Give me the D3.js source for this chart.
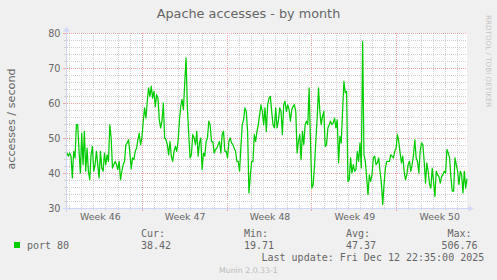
<!DOCTYPE html>
<html>
<head>
<meta charset="utf-8">
<script src="https://cdn.jsdelivr.net/npm/d3@7"></script>
<style>
  html, body { margin: 0; padding: 0; background: #f0f0f0; }
  svg { display: block; }
  text { font-family: "DejaVu Sans", sans-serif; fill: #666; }
  .mono { font-family: "DejaVu Sans Mono", monospace; }
</style>
</head>
<body>
<svg id="chart" width="497" height="280"></svg>
<script>
const title = "Apache accesses - by month";
const yLabel = "accesses / second";
const yTicks = [30, 40, 50, 60, 70, 80];
const seriesName = "port 80";
const legendHeads = ["Cur:", "Min:", "Avg:", "Max:"];
const legendValues = ["38.42", "19.71", "47.37", "506.76"];
const lastUpdate = "Last update: Fri Dec 12 22:35:00 2025";
const version = "Munin 2.0.33-1";

// 33 day window, samples evenly spaced over it
const start = new Date(Date.UTC(2025, 10, 9, 20, 0));
const end = new Date(Date.UTC(2025, 11, 12, 20, 0));

// accesses / second (first part, up to ~Nov 24)
const accessesA = [
  45.7, 44.8, 45.7, 44.8, 38.6, 46.2, 44.3, 53.8, 53.8, 46.2,
  40.0, 51.4, 42.4, 51.9, 40.5, 47.1, 40.5, 38.1, 45.2, 47.6,
  40.5, 42.4, 46.2, 42.4, 38.6, 46.2, 41.4, 40.5, 45.7, 42.4,
  45.2, 43.3, 53.8, 50.0, 41.4, 42.4, 43.3, 42.4, 41.0, 43.3,
  38.1, 40.5, 42.4, 43.3, 48.1, 48.6, 49.5, 45.7, 41.2, 44.3,
  43.8, 46.2, 47.1, 49.5, 51.4, 48.1, 50.0, 54.8, 58.6, 55.7,
  60.5, 64.3, 61.9, 64.8, 61.4, 63.3, 59.0, 62.4, 61.4, 55.2,
  52.9, 54.8, 60.0, 50.0, 49.5, 48.1, 45.2, 49.0, 44.8, 43.3,
  46.2, 47.6, 46.2, 49.0, 54.8, 59.0, 61.0, 58.1, 65.7, 72.9,
  58.6, 51.0, 44.3, 45.2, 51.0, 50.0, 48.1, 51.9, 44.8, 48.6,
  50.0, 41.0, 45.7, 44.8, 49.0, 50.0, 54.8, 53.8, 49.0, 49.0,
  45.7, 46.7, 47.1, 48.1, 49.0, 45.7, 51.0, 51.9, 46.2, 46.2,
  44.3, 49.0, 50.0, 48.6, 48.1, 47.1, 46.2, 43.3, 43.3, 40.5,
  47.6, 53.8, 55.2, 58.6, 57.6, 51.9, 34.3
];

// second part, up to the last update
const accessesB = [
  39.0, 43.3, 43.3, 51.0, 49.0, 51.9, 53.8, 56.7, 59.5, 57.6,
  53.8, 58.6, 51.9, 59.5, 61.4, 61.9, 57.6, 53.8, 52.9, 58.6,
  52.9, 54.8, 58.6, 57.6, 51.0, 59.5, 60.5, 57.6, 59.5, 58.1,
  54.8, 58.1, 59.0, 59.5, 57.6, 45.7, 49.0, 51.0, 43.8, 51.9,
  48.1, 53.8, 54.8, 53.8, 64.3, 49.0, 35.7, 36.7, 41.9, 49.0,
  55.7, 64.3, 57.6, 53.8, 56.2, 57.6, 47.6, 48.1, 52.9, 53.8,
  54.8, 53.8, 54.3, 55.7, 52.9, 55.2, 42.9, 50.5, 48.6, 57.6,
  66.2, 62.9, 63.3, 37.6, 38.1, 44.3, 40.0, 42.4, 40.5, 41.0,
  46.2, 43.3, 48.6, 41.4, 77.6, 45.2, 43.3, 38.6, 33.8, 39.5,
  37.6, 39.5, 44.3, 44.8, 42.4, 42.9, 44.3, 40.5, 37.1, 31.0,
  36.7, 41.4, 43.3, 43.3, 43.3, 45.2, 44.8, 44.3, 46.2, 47.1,
  51.0, 49.0, 45.7, 42.9, 44.8, 40.5, 38.1, 39.5, 42.4, 43.3,
  40.5, 42.4, 45.2, 49.5, 44.3, 43.3, 40.0, 46.2, 48.6, 48.1,
  43.3, 37.1, 42.9, 40.5, 36.7, 35.7, 41.4, 37.6, 33.3, 40.5,
  39.5, 39.0, 37.1, 39.0, 39.5, 40.5, 40.0, 46.7, 45.7, 44.3,
  38.6, 34.8, 34.8, 44.3, 42.4, 40.5, 36.7, 40.5, 39.5, 34.3,
  40.5, 35.7, 38.4
];

const values = accessesA.concat(accessesB);
const step = (end - start) / (values.length - 1);
const data = values.map((v, i) => ({ t: new Date(+start + i * step), v }));

const svg = d3.select("#chart");
const x = d3.scaleUtc().domain([start, end]).range([67, 467]);
const y = d3.scaleLinear().domain([30, 80]).range([208, 33]);
const px = v => Math.round(v) + 0.5;

const minorCol = "#cfcfcf";
const majorCol = "#f2a3a3";
const axisCol = "#cfd6f8";

// canvas
svg.append("rect")
  .attr("x", 67).attr("y", 33)
  .attr("width", 400).attr("height", 175)
  .attr("fill", "#fff");

const grid = svg.append("g").attr("fill", "none").attr("stroke-width", 1);

// vertical grid: days minor, weeks (sunday) major
const days = d3.utcDay.range(d3.utcDay.ceil(start), end);
const sundays = d3.utcSunday.range(d3.utcSunday.ceil(start), end);
const isSunday = d => d.getUTCDay() === 0;

grid.selectAll(".vminor")
  .data(days.filter(d => !isSunday(d)))
  .join("g")
  .each(function(d) {
    const g = d3.select(this);
    const xx = px(x(d));
    g.append("line").attr("x1", xx).attr("x2", xx).attr("y1", 33).attr("y2", 208)
      .attr("stroke", minorCol).attr("stroke-dasharray", "1,1");
    g.append("line").attr("x1", xx).attr("x2", xx).attr("y1", 208).attr("y2", 210)
      .attr("stroke", minorCol);
  });

grid.selectAll(".vmajor")
  .data(sundays)
  .join("g")
  .each(function(d) {
    const g = d3.select(this);
    const xx = px(x(d));
    g.append("line").attr("x1", xx).attr("x2", xx).attr("y1", 33).attr("y2", 208)
      .attr("stroke", majorCol).attr("stroke-dasharray", "1,1");
    g.append("line").attr("x1", xx).attr("x2", xx).attr("y1", 208).attr("y2", 211)
      .attr("stroke", majorCol);
  });

// horizontal grid: every 2 minor, every 10 major
const yMinor = d3.range(32, 80, 2).filter(v => v % 10 !== 0);

grid.selectAll(".hminor")
  .data(yMinor)
  .join("g")
  .each(function(d) {
    const g = d3.select(this);
    const yy = px(y(d));
    g.append("line").attr("x1", 67).attr("x2", 467).attr("y1", yy).attr("y2", yy)
      .attr("stroke", minorCol).attr("stroke-dasharray", "1,1");
    g.append("line").attr("x1", 64).attr("x2", 67).attr("y1", yy).attr("y2", yy)
      .attr("stroke", minorCol);
  });

grid.selectAll(".hmajor")
  .data(yTicks)
  .join("g")
  .each(function(d) {
    const g = d3.select(this);
    const yy = px(y(d));
    g.append("line").attr("x1", 67).attr("x2", 467).attr("y1", yy).attr("y2", yy)
      .attr("stroke", majorCol).attr("stroke-dasharray", "1,1");
    g.append("line").attr("x1", 63).attr("x2", 67).attr("y1", yy).attr("y2", yy)
      .attr("stroke", majorCol);
  });

// axes + arrows
svg.append("line").attr("x1", 63).attr("x2", 471).attr("y1", 208.5).attr("y2", 208.5)
  .attr("stroke", axisCol);
svg.append("line").attr("x1", 66.5).attr("x2", 66.5).attr("y1", 212).attr("y2", 29)
  .attr("stroke", axisCol);
svg.append("path").attr("d", "M468.5,205.5L473.5,208.5L468.5,211.5Z").attr("fill", axisCol);
svg.append("path").attr("d", "M63.5,31.5L66.5,26.5L69.5,31.5Z").attr("fill", axisCol);

// data line
svg.append("path")
  .datum(data)
  .attr("fill", "none")
  .attr("stroke", "#00cc00")
  .attr("stroke-width", 1.25)
  .attr("stroke-linejoin", "round")
  .attr("d", d3.line().x(d => x(d.t)).y(d => y(d.v)));

// y tick labels
svg.append("g").selectAll("text")
  .data(yTicks)
  .join("text")
  .attr("x", 60.5)
  .attr("y", d => y(d) + 3.6)
  .attr("text-anchor", "end")
  .attr("font-size", 9.7)
  .text(d => d);

// week labels, centred in each week
const weekFmt = d3.utcFormat("%V");
const weekMids = d3.utcSunday.range(d3.utcSunday.floor(start), end)
  .map(s => new Date(+s + 3.5 * 864e5))
  .filter(m => x(m) > 67 && x(m) < 467);

svg.append("g").selectAll("text")
  .data(weekMids)
  .join("text")
  .attr("x", d => x(d) + 1)
  .attr("y", 220)
  .attr("text-anchor", "middle")
  .attr("font-size", 9.4)
  .text(d => "Week " + weekFmt(d));

// title and axis title
svg.append("text")
  .attr("x", 248.5).attr("y", 18)
  .attr("text-anchor", "middle")
  .attr("font-size", 12.8)
  .text(title);

svg.append("text")
  .attr("transform", "translate(15,119) rotate(-90)")
  .attr("text-anchor", "middle")
  .attr("font-size", 11.2)
  .text(yLabel);

// watermark
svg.append("text")
  .attr("transform", "translate(486.3,15) rotate(90)")
  .attr("font-size", 7.2)
  .style("fill", "#c6c6c6")
  .text("RRDTOOL / TOBI OETIKER");

// legend
const legend = svg.append("g").attr("class", "mono").attr("font-size", 10);
const colX = [141, 244, 346, 447.5];
const valX = [141, 244, 346, 441.5];

legend.append("rect")
  .attr("x", 14).attr("y", 242)
  .attr("width", 6).attr("height", 6)
  .attr("fill", "#00cc00");

legend.append("text").attr("class", "mono")
  .attr("x", 27).attr("y", 249.3).text(seriesName);

legend.selectAll(".head")
  .data(legendHeads)
  .join("text")
  .attr("class", "mono")
  .attr("x", (d, i) => colX[i]).attr("y", 237.3)
  .text(d => d);

legend.selectAll(".val")
  .data(legendValues)
  .join("text")
  .attr("class", "mono")
  .attr("x", (d, i) => valX[i]).attr("y", 249.3)
  .text(d => d);

legend.append("text").attr("class", "mono")
  .attr("x", 261.5).attr("y", 260.8).text(lastUpdate);

svg.append("text")
  .attr("x", 219).attr("y", 272.7)
  .attr("font-size", 7.8)
  .style("fill", "#bbbbbb")
  .text(version);
</script>
</body>
</html>
